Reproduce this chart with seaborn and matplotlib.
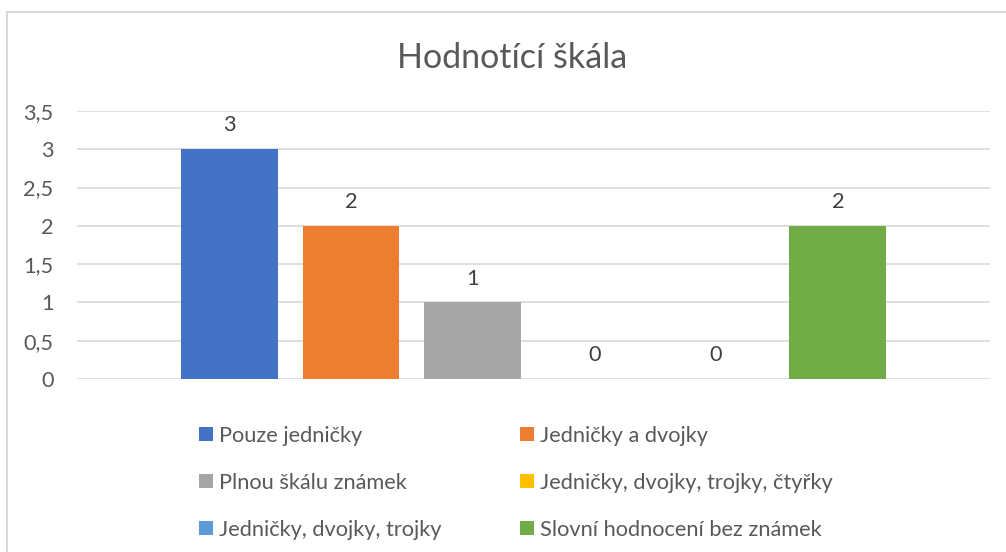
import matplotlib
matplotlib.use("Agg")
import matplotlib.pyplot as plt
import seaborn as sns
from matplotlib.patches import Patch, Rectangle

# Data
labels = ["Pouze jedničky", "Jedničky a dvojky", "Plnou škálu známek",
          "Jedničky, dvojky, trojky, čtyřky", "Jedničky, dvojky, trojky",
          "Slovní hodnocení bez známek"]
values = [3, 2, 1, 0, 0, 2]
colors = ["#4472C4", "#ED7D31", "#A5A5A5", "#FFC000", "#5B9BD5", "#70AD47"]
yticks = [0, 0.5, 1, 1.5, 2, 2.5, 3, 3.5]
ytick_labels = ["0", "0,5", "1", "1,5", "2", "2,5", "3", "3,5"]

sns.set_style("white")
plt.rcParams['font.family'] = ['Lato', 'DejaVu Sans']
text_color = "#595959"
fs = 15.7

W, H = 1006, 552
fig = plt.figure(figsize=(W / 100, H / 100), dpi=100)
ax = fig.add_axes([77 / W, 173 / H, (990 - 77) / W, (379 - 111) / H])

sns.barplot(x=labels, y=values, hue=labels, palette=colors, order=labels,
            hue_order=labels, width=97 / 122, dodge=False, legend=False,
            saturation=1, linewidth=0, ax=ax)

for c in ax.containers:
    ax.bar_label(c, fmt="%d", padding=10, fontsize=fs, color="#404040")

ax.set_xlim(-1.25, 6.25)
ax.set_ylim(0, 3.5)
ax.set_yticks(yticks)
ax.set_yticklabels(ytick_labels, fontsize=fs, color=text_color)
ax.set_xticks([])
ax.tick_params(axis="y", length=0, pad=17)
ax.set_xlabel("")
ax.set_ylabel("")
ax.yaxis.grid(True, color="#D9D9D9", linewidth=1.2)
ax.set_axisbelow(True)
for s in ax.spines.values():
    s.set_visible(False)

# Title
fig.text(512 / W, 1 - 68 / H, "Hodnotící škála", ha="center", va="baseline",
         fontsize=24.5, color=text_color)

# Legend, row-wise order
order = [0, 2, 4, 1, 3, 5]
handles = [Patch(facecolor=colors[i], edgecolor="none") for i in order]
leg_labels = [labels[i] for i in order]
fig.legend(handles, leg_labels, ncol=2, loc="upper left",
           bbox_to_anchor=(199 / W, 1 - 426 / H), frameon=False,
           fontsize=fs, labelcolor=text_color, handlelength=0.62,
           handleheight=0.62, handletextpad=0.3, labelspacing=1.24,
           columnspacing=3.6, borderpad=0, borderaxespad=0)

# Chart frame
fig.patches.append(Rectangle((7 / W, -0.1), 1.2, 1 - 12 / H + 0.1,
                             transform=fig.transFigure, fill=False,
                             edgecolor="#D9D9D9", linewidth=1.5))

fig.savefig("out.png", dpi=100)
